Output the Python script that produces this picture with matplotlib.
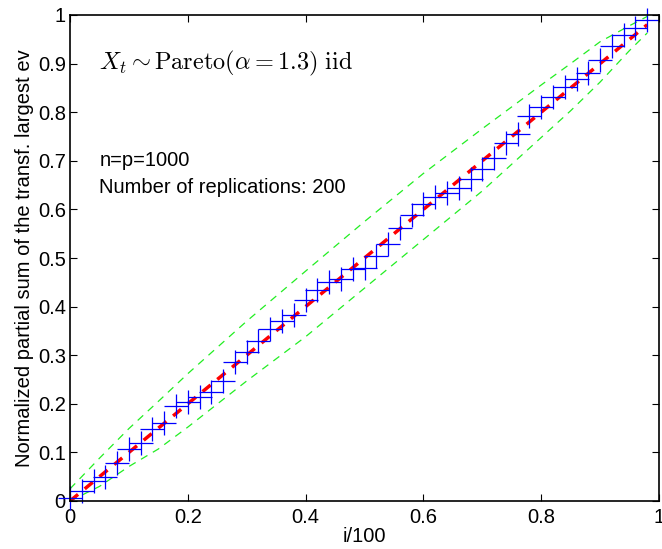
import numpy as np
import matplotlib
matplotlib.use("Agg")
import matplotlib.pyplot as plt

plt.rcParams['font.family'] = ['Liberation Sans', 'DejaVu Sans']
plt.rcParams['mathtext.fontset'] = 'cm'

# ---- data ----
# normalized partial sums (blue +), every second i
x_pts = [0.00, 0.02, 0.04, 0.06, 0.08, 0.10, 0.12, 0.14, 0.16, 0.18,
         0.20, 0.22, 0.24, 0.26, 0.28, 0.30, 0.32, 0.34, 0.36, 0.38,
         0.40, 0.42, 0.44, 0.46, 0.48, 0.50, 0.52, 0.54, 0.56, 0.58,
         0.60, 0.62, 0.64, 0.66, 0.68, 0.70, 0.72, 0.74, 0.76, 0.78,
         0.80, 0.82, 0.84, 0.86, 0.88, 0.90, 0.92, 0.94, 0.96, 0.98]
y_pts = [0.006, 0.021, 0.041, 0.049, 0.078, 0.107, 0.119, 0.148, 0.160, 0.195,
         0.204, 0.215, 0.225, 0.247, 0.286, 0.306, 0.329, 0.353, 0.370, 0.382,
         0.414, 0.434, 0.451, 0.457, 0.477, 0.479, 0.505, 0.529, 0.561, 0.588,
         0.612, 0.625, 0.634, 0.645, 0.662, 0.683, 0.706, 0.737, 0.756, 0.792,
         0.810, 0.831, 0.852, 0.868, 0.880, 0.907, 0.936, 0.959, 0.973, 0.990]

# expected line
x_ref = [0.0, 0.98]
y_ref = [0.0, 0.98]

# confidence band (green dashed)
x_band = [0.0, 0.05, 0.10, 0.15, 0.20, 0.30, 0.40, 0.50, 0.60, 0.70, 0.80, 0.85, 0.90, 0.95, 0.98]
y_upper = [0.025, 0.088, 0.149, 0.205, 0.262, 0.370, 0.473, 0.575, 0.674, 0.766, 0.856, 0.900, 0.945, 0.978, 0.997]
y_lower = [0.000, 0.030, 0.071, 0.107, 0.152, 0.247, 0.338, 0.438, 0.538, 0.638, 0.748, 0.803, 0.862, 0.927, 0.963]

fig = plt.figure(figsize=(6.62, 5.49), dpi=100)
ax = fig.add_axes([70/662, 48/549, 589/662, 486/549])

ax.plot(x_band, y_upper, color='#22ee22', lw=0.9, dashes=(6, 5))
ax.plot(x_band, y_lower, color='#22ee22', lw=0.9, dashes=(6, 5))
ax.plot(x_ref, y_ref, color='red', lw=2.5, dashes=(3, 2.5))
ax.plot(x_pts, y_pts, linestyle='none', marker='+', color='blue',
        markersize=17, markeredgewidth=0.9, clip_on=False)

ax.text(0.05, 0.90, r'$X_t \sim \mathrm{Pareto}(\alpha = 1.3)\ \mathrm{iid}$',
        fontsize=17.5, va='center', ha='left')
ax.text(0.05, 0.70, 'n=p=1000', fontsize=14.5, va='center', ha='left')
ax.text(0.05, 0.646, 'Number of replications: 200', fontsize=14.5, va='center', ha='left')

ax.set_xlim(0, 1)
ax.set_ylim(0, 1)
ax.set_xticks([0, 0.2, 0.4, 0.6, 0.8, 1])
ax.set_xticklabels(['0', '0.2', '0.4', '0.6', '0.8', '1'])
ax.set_yticks(np.arange(0, 1.01, 0.1))
ax.set_yticklabels(['0', '0.1', '0.2', '0.3', '0.4', '0.5', '0.6', '0.7', '0.8', '0.9', '1'])
ax.tick_params(direction='in', length=5, width=0.8, labelsize=14.5, top=True, right=True, pad=3)
ax.tick_params(axis='x', pad=5)
for s in ax.spines.values():
    s.set_linewidth(1.2)
ax.set_xlabel('i/100', fontsize=14.5, labelpad=0)
ax.set_ylabel('Normalized partial sum of the transf. largest ev', fontsize=14.5, labelpad=3)

fig.savefig('out.png', dpi=100)
